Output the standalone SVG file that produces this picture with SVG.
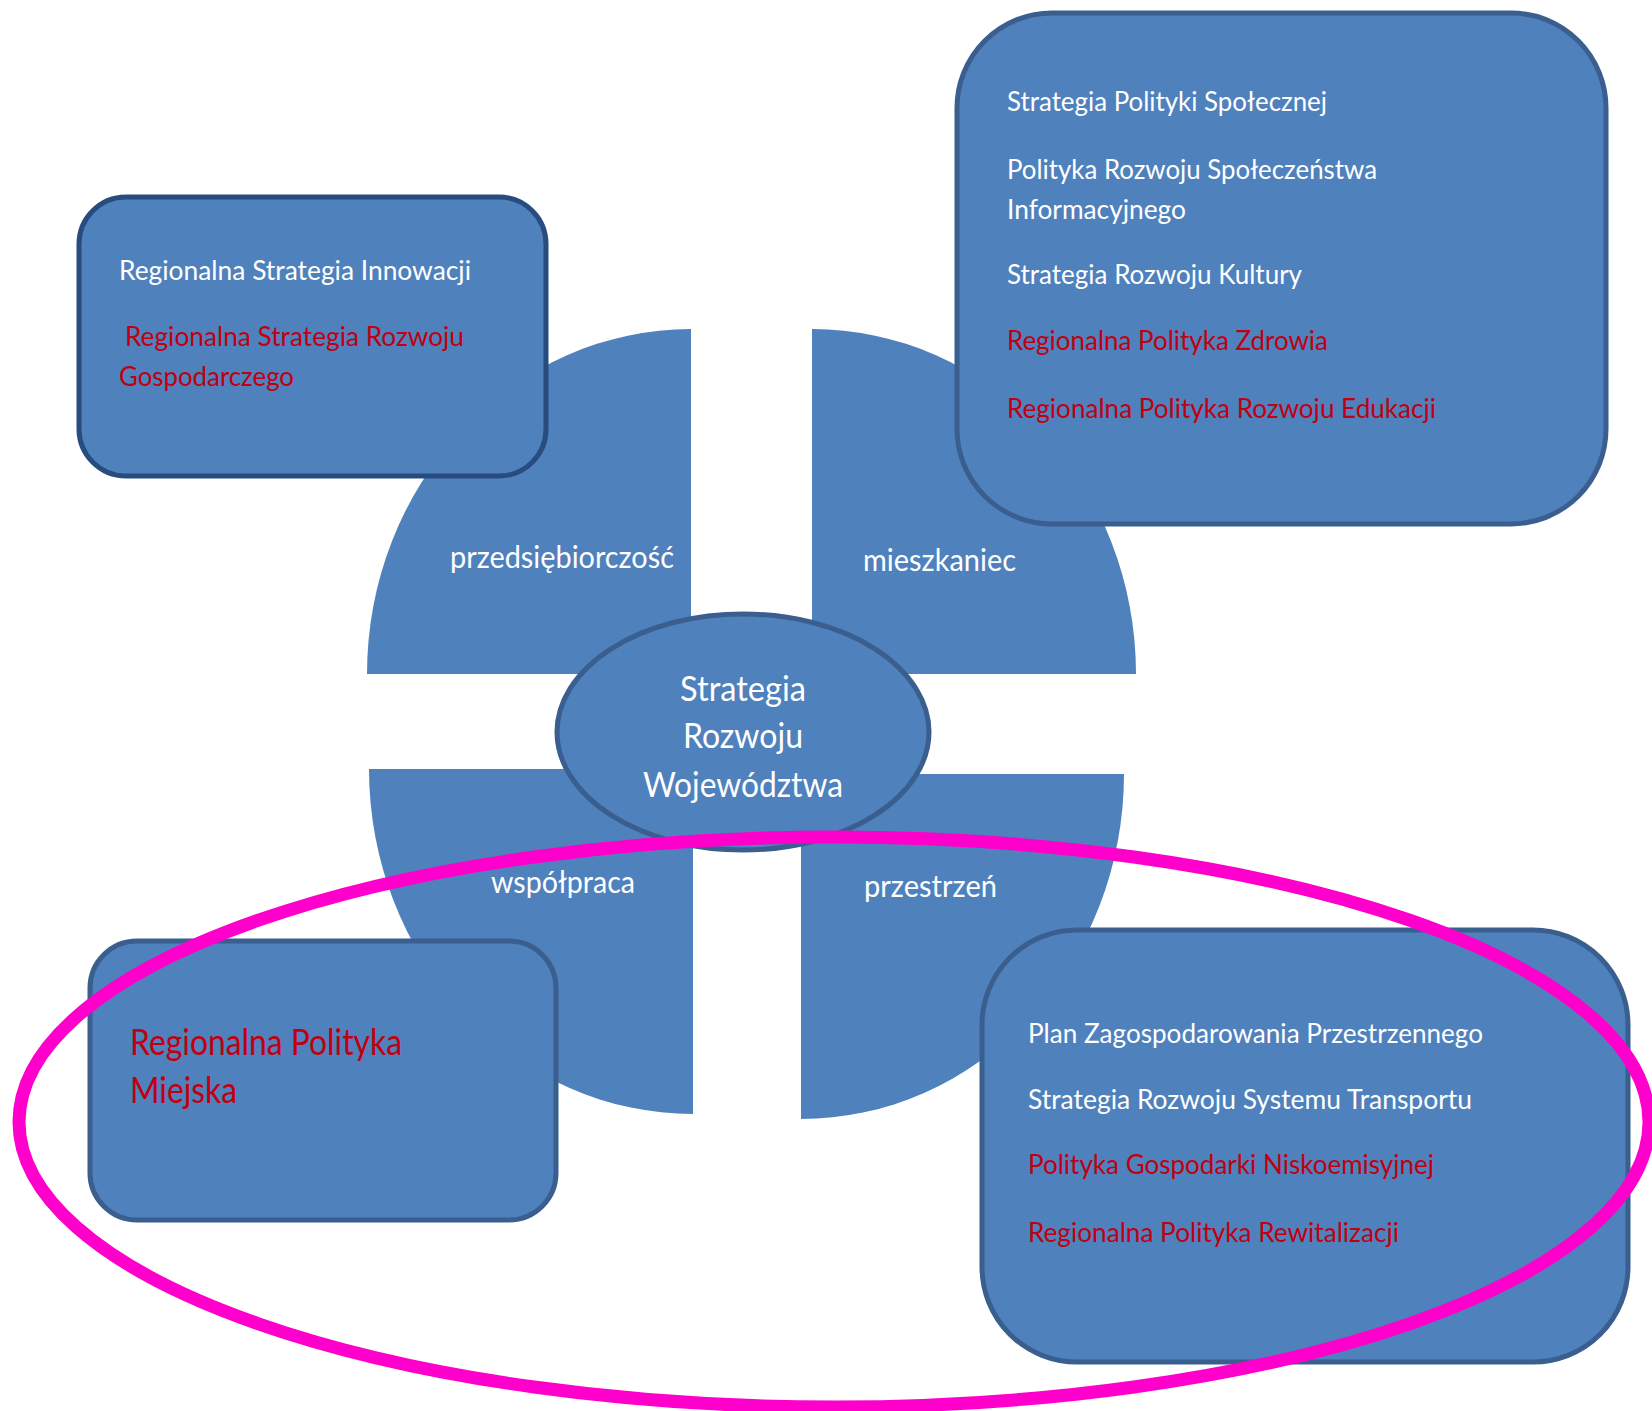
<svg xmlns="http://www.w3.org/2000/svg" width="1652" height="1411" viewBox="0 0 1652 1411">
<style>
.sec{fill:#4F81BD;stroke:none}
.box{fill:#4F81BD;stroke:#3A5F8F;stroke-width:5}
.boxd{fill:#4F81BD;stroke:#284C7E;stroke-width:5}
text{font-family:Lato,"Liberation Sans",sans-serif}
.w{fill:#FFFFFF;font-size:26px}
.r{fill:#C00010;font-size:26px}
.lbl{fill:#FFFFFF;font-size:30px}
.ctr{fill:#FFFFFF;font-size:34px;text-anchor:middle}
.big{fill:#C00010;font-size:36px}
</style>
<rect width="1652" height="1411" fill="#FFFFFF"/>
<g id="sectors">
<path id="sector-tl" class="sec" d="M691,674 L367,674 A324,345 0 0 1 691,329 Z"/>
<path id="sector-tr" class="sec" d="M812,674 L812,329 A324,345 0 0 1 1136,674 Z"/>
<path id="sector-bl" class="sec" d="M693,769 L369,769 A324,345 0 0 0 693,1114 Z"/>
<path id="sector-br" class="sec" d="M801,774 L1124,774 A323,345 0 0 1 801,1119 Z"/>
</g>
<g id="sector-labels">
<text class="lbl" x="450" y="568" textLength="224" lengthAdjust="spacingAndGlyphs">przedsiębiorczość</text>
<text class="lbl" x="863" y="571" textLength="153" lengthAdjust="spacingAndGlyphs">mieszkaniec</text>
<text class="lbl" x="491" y="893" textLength="144" lengthAdjust="spacingAndGlyphs">współpraca</text>
<text class="lbl" x="864" y="897" textLength="133" lengthAdjust="spacingAndGlyphs">przestrzeń</text>
</g>
<g id="connectors"></g>
<g id="node-tl">
<rect class="boxd" x="79" y="197" width="467" height="279" rx="47" ry="47"/>
<text class="w" x="119" y="280" textLength="352" lengthAdjust="spacingAndGlyphs">Regionalna Strategia Innowacji</text>
<text class="r" x="125" y="346" textLength="339" lengthAdjust="spacingAndGlyphs">Regionalna Strategia Rozwoju</text>
<text class="r" x="119" y="386" textLength="175" lengthAdjust="spacingAndGlyphs">Gospodarczego</text>
</g>
<g id="node-tr">
<rect class="box" x="957" y="13" width="649" height="511" rx="95" ry="95"/>
<text class="w" x="1007" y="111" textLength="320" lengthAdjust="spacingAndGlyphs">Strategia Polityki Społecznej</text>
<text class="w" x="1007" y="179" textLength="370" lengthAdjust="spacingAndGlyphs">Polityka Rozwoju Społeczeństwa</text>
<text class="w" x="1007" y="219" textLength="179" lengthAdjust="spacingAndGlyphs">Informacyjnego</text>
<text class="w" x="1007" y="284" textLength="295" lengthAdjust="spacingAndGlyphs">Strategia Rozwoju Kultury</text>
<text class="r" x="1007" y="350" textLength="321" lengthAdjust="spacingAndGlyphs">Regionalna Polityka Zdrowia</text>
<text class="r" x="1007" y="418" textLength="429" lengthAdjust="spacingAndGlyphs">Regionalna Polityka Rozwoju Edukacji</text>
</g>
<g id="node-bl">
<rect class="box" x="90" y="941" width="466" height="279" rx="47" ry="47"/>
<text class="big" x="130" y="1055" textLength="272" lengthAdjust="spacingAndGlyphs">Regionalna Polityka</text>
<text class="big" x="130" y="1103" textLength="107" lengthAdjust="spacingAndGlyphs">Miejska</text>
</g>
<g id="node-br">
<rect class="box" x="982" y="930" width="646" height="432" rx="95" ry="95"/>
<text class="w" x="1028" y="1043" textLength="455" lengthAdjust="spacingAndGlyphs">Plan Zagospodarowania Przestrzennego</text>
<text class="w" x="1028" y="1109" textLength="444" lengthAdjust="spacingAndGlyphs">Strategia Rozwoju Systemu Transportu</text>
<text class="r" x="1028" y="1174" textLength="406" lengthAdjust="spacingAndGlyphs">Polityka Gospodarki Niskoemisyjnej</text>
<text class="r" x="1028" y="1242" textLength="371" lengthAdjust="spacingAndGlyphs">Regionalna Polityka Rewitalizacji</text>
</g>
<g id="node-center">
<ellipse class="box" cx="743" cy="732" rx="186" ry="118"/>
<text class="ctr" x="743" y="701" textLength="126" lengthAdjust="spacingAndGlyphs">Strategia</text>
<text class="ctr" x="743" y="748" textLength="120" lengthAdjust="spacingAndGlyphs">Rozwoju</text>
<text class="ctr" x="743" y="797" textLength="200" lengthAdjust="spacingAndGlyphs">Województwa</text>
</g>
<g id="highlight">
<ellipse cx="834" cy="1122" rx="815" ry="285" fill="none" stroke="#FF00CC" stroke-width="13"/>
</g>
</svg>
